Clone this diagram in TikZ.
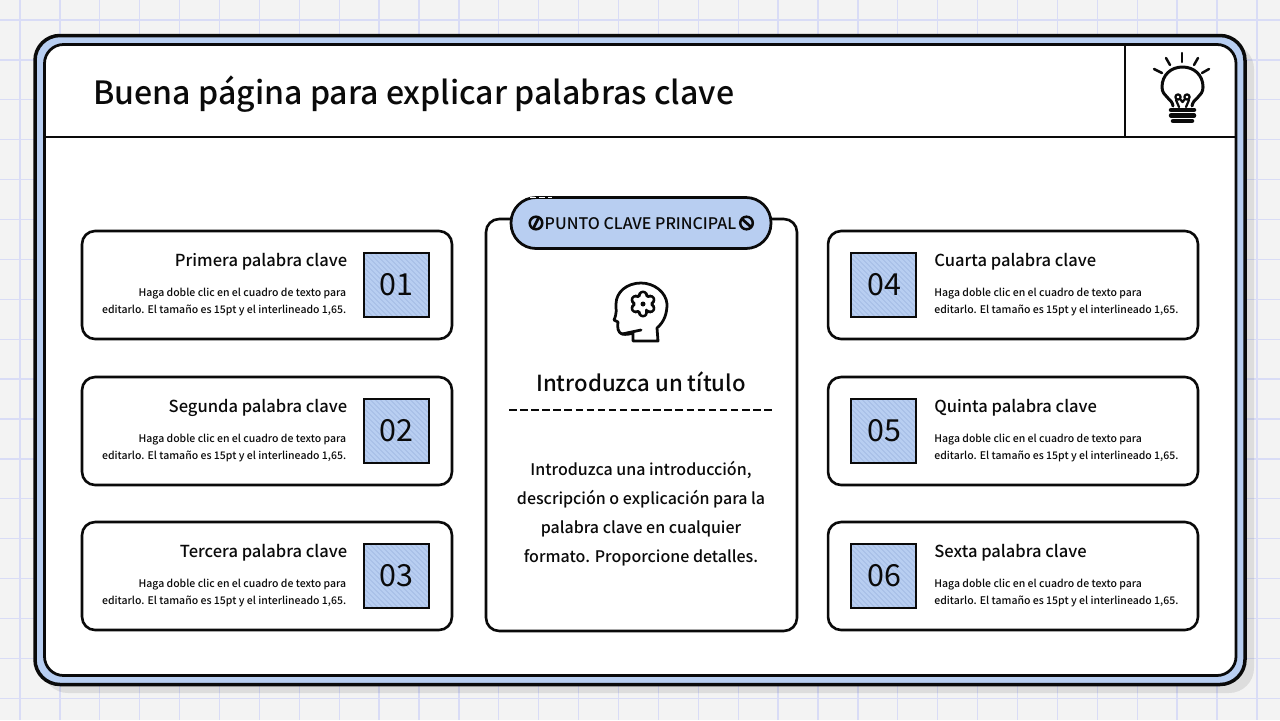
\documentclass[tikz,border=0pt]{standalone}
\usepackage{fontspec}
\setmainfont{Noto Sans CJK KR}[UprightFont=* Medium]
\newfontfamily\numfont{Noto Sans CJK KR}
\usepackage{xcolor}
\usetikzlibrary{calc}
\definecolor{paper}{HTML}{F3F3F3}
\definecolor{gridline}{HTML}{D9DCF6}
\definecolor{keyblue}{HTML}{B8CEF1}
\definecolor{hatchblue}{HTML}{9DB5E0}
\definecolor{inkblack}{HTML}{0A0A0A}

\begin{document}
\begin{tikzpicture}[x=0.02cm, y=-0.02cm,
    cardbox/.style={draw=inkblack, fill=white, line width=0.052cm, rounded corners=0.26cm, minimum width=7.4cm, minimum height=2.16cm, inner sep=0},
    numbox/.style={fill=keyblue, outer sep=0, minimum width=1.3cm, minimum height=1.28cm, inner sep=0},
    numtext/.style={text=inkblack, inner sep=0, font=\numfont\fontsize{17.3}{20}\selectfont},
    headtext/.style={inner sep=0, text=inkblack, font=\fontsize{9.42}{11}\selectfont},
    smalltext/.style={inner sep=0, text=inkblack, font=\fontsize{5.97}{9.65}\selectfont},
    icon/.style={draw=inkblack, line width=0.05cm, line cap=round, line join=round}]

  \useasboundingbox (0,0) rectangle (1280,720);
  \fill[paper] (0,0) rectangle (1280,720);

  %grid
  \foreach \k in {0,...,31} \draw[gridline, line width=0.025cm] ({20+39.9*\k},0) -- ({20+39.9*\k},720);
  \foreach \k in {0,...,17} \draw[gridline, line width=0.025cm] (0,{20+39.9*\k}) -- (1280,{20+39.9*\k});

  %frame
  \fill[black, opacity=0.09, rounded corners=0.5cm] (43,44) rectangle (1254,693);
  \draw[draw=inkblack, fill=keyblue, line width=0.07cm, rounded corners=0.5cm] (35,35.5) rectangle (1245,684.5);
  \draw[draw=inkblack, fill=white, line width=0.055cm, rounded corners=0.38cm] (44.5,44.5) rectangle (1236,675.5);

  %title bar
  \draw[inkblack, line width=0.05cm] (45,137) -- (1236,137);
  \draw[inkblack, line width=0.05cm] (1125,45) -- (1125,137);
  \node[anchor=base west, inner sep=0, text=inkblack, font=\fontsize{18.25}{23}\selectfont] (title) at (93,104.5) {Buena página para explicar palabras clave};

  %bulb
  \draw[icon, line width=0.06cm] (1173,106) .. controls (1172,98) and (1162,97) .. (1162,87) .. controls (1162,75) and (1171,67) .. (1182.5,67) .. controls (1194,67) and (1203,75) .. (1203,87) .. controls (1203,97) and (1193,98) .. (1192,106);
  \draw[icon, line width=0.045cm] (1178,97) circle (2.6);
  \draw[icon, line width=0.045cm] (1187,97) circle (2.6);
  \draw[icon, line width=0.045cm] (1176,100) -- (1179,107);
  \draw[icon, line width=0.045cm] (1189,100) -- (1186,107);
  \draw[icon, line width=0.045cm] (1180,99) -- (1182.5,102) -- (1185,99);
  \draw[icon, line width=0.09cm] (1171,110) -- (1194,110);
  \draw[icon, line width=0.09cm] (1171,115.5) -- (1194,115.5);
  \draw[icon, line width=0.09cm] (1173,121) -- (1192,121);
  \draw[icon] (1182,53) -- (1182,62);
  \draw[icon] (1166,58) -- (1170,65);
  \draw[icon] (1198,58) -- (1194,65);
  \draw[icon] (1154,69) -- (1162,73);
  \draw[icon] (1209,69) -- (1202,73);

  %main card
  \node[cardbox, minimum width=6.22cm, minimum height=8.24cm] (maincard) at (641.5,425) {};
  \node[draw=inkblack, fill=keyblue, line width=0.055cm, rounded corners=0.5cm, minimum width=5.2cm, minimum height=1.02cm, inner sep=0] (keypill) at (641,223) {};
  \draw[white, line width=0.035cm, dash pattern=on 0.12cm off 0.06cm] (530,197.5) -- (552,197.5);
  \node[inner sep=0, text=inkblack, font=\fontsize{9.1}{11}\selectfont] (pilltext) at (640.5,223.5) {PUNTO CLAVE PRINCIPAL};
  \draw[icon] (536,223) circle (6.3);
  \draw[icon, line width=0.055cm] (533.5,228) -- (538.5,218);
  \draw[icon] (746.5,223) circle (6.3);
  \draw[icon, line width=0.055cm] (742,219) -- (751,227);

  %head
  \draw[icon, line width=0.055cm] (658,341) -- (657,328) .. controls (664,322) and (667,314) .. (667,304) .. controls (666,292) and (654,283) .. (641,283) .. controls (627,283) and (616,292) .. (616,304) .. controls (616,310) and (617,313) .. (614,320) -- (618,322) .. controls (617,327) and (618,333) .. (622,334) .. controls (626,335) and (630,334) .. (633,333) -- (633,341) -- cycle;
  \draw[icon, line width=0.055cm] (622,334) -- (641,330);
  \draw[icon, line width=0.05cm, rounded corners=0.05cm] ([shift={(643,304)}]68:9) \foreach \a in {90,150,...,390} {-- ([shift={(643,304)}]\a-14:12.5) -- ([shift={(643,304)}]\a+14:12.5) -- ([shift={(643,304)}]\a+22:9) -- ([shift={(643,304)}]\a+38:9)} -- cycle;
  \fill[inkblack] (643,304) circle (2.5);

  \node[inner sep=0, text=inkblack, font=\fontsize{12.6}{15}\selectfont] (maintitle) at (641,382) {Introduzca un título};
  \draw[inkblack, line width=0.055cm, dash pattern=on 0.15cm off 0.072cm] (509,410) -- (772,410);
  \node[inner sep=0, text=inkblack, align=center, font=\fontsize{9.1}{16.5}\selectfont] (maintext) at (641,513.7) {Introduzca una introducción,\\descripción o explicación para la\\palabra clave en cualquier\\formato. Proporcione detalles.};

  %left cards
  \foreach \num/\word/\y in {01/Primera/285, 02/Segunda/431, 03/Tercera/576} {
    \node[cardbox] (card\num) at (267,\y) {};
    \node[numbox] (box\num) at (396.5,\y) {};
    \begin{scope}
      \clip (364,{\y-32}) rectangle (429,{\y+32});
      \foreach \d in {-70,-65,...,70} \draw[hatchblue, line width=0.01cm] ({396.5+\d-40},{\y-40}) -- ({396.5+\d+40},{\y+40});
    \end{scope}
    \draw[inkblack, line width=0.04cm] (box\num.north west) rectangle (box\num.south east);
    \node[numtext] (num\num) at (396,{\y-0.5}) {\num};
    \node[headtext, anchor=base east] (head\num) at (347.5,{\y-19}) {\word{} palabra clave};
    \node[smalltext, align=right, anchor=east] (body\num) at (346.5,{\y+17.2}) {Haga doble clic en el cuadro de texto para\\editarlo. El tamaño es 15pt y el interlineado 1,65.};
  }

  %right cards
  \foreach \num/\word/\y in {04/Cuarta/285, 05/Quinta/431, 06/Sexta/576} {
    \node[cardbox] (card\num) at (1013,\y) {};
    \node[numbox] (box\num) at (883.5,\y) {};
    \begin{scope}
      \clip (851,{\y-32}) rectangle (916,{\y+32});
      \foreach \d in {-70,-65,...,70} \draw[hatchblue, line width=0.01cm] ({883.5+\d-40},{\y-40}) -- ({883.5+\d+40},{\y+40});
    \end{scope}
    \draw[inkblack, line width=0.04cm] (box\num.north west) rectangle (box\num.south east);
    \node[numtext] (num\num) at (884,{\y-0.5}) {\num};
    \node[headtext, anchor=base west] (head\num) at (934,{\y-19}) {\word{} palabra clave};
    \node[smalltext, align=left, anchor=west] (body\num) at (934,{\y+17.2}) {Haga doble clic en el cuadro de texto para\\editarlo. El tamaño es 15pt y el interlineado 1,65.};
  }

\end{tikzpicture}
\end{document}
